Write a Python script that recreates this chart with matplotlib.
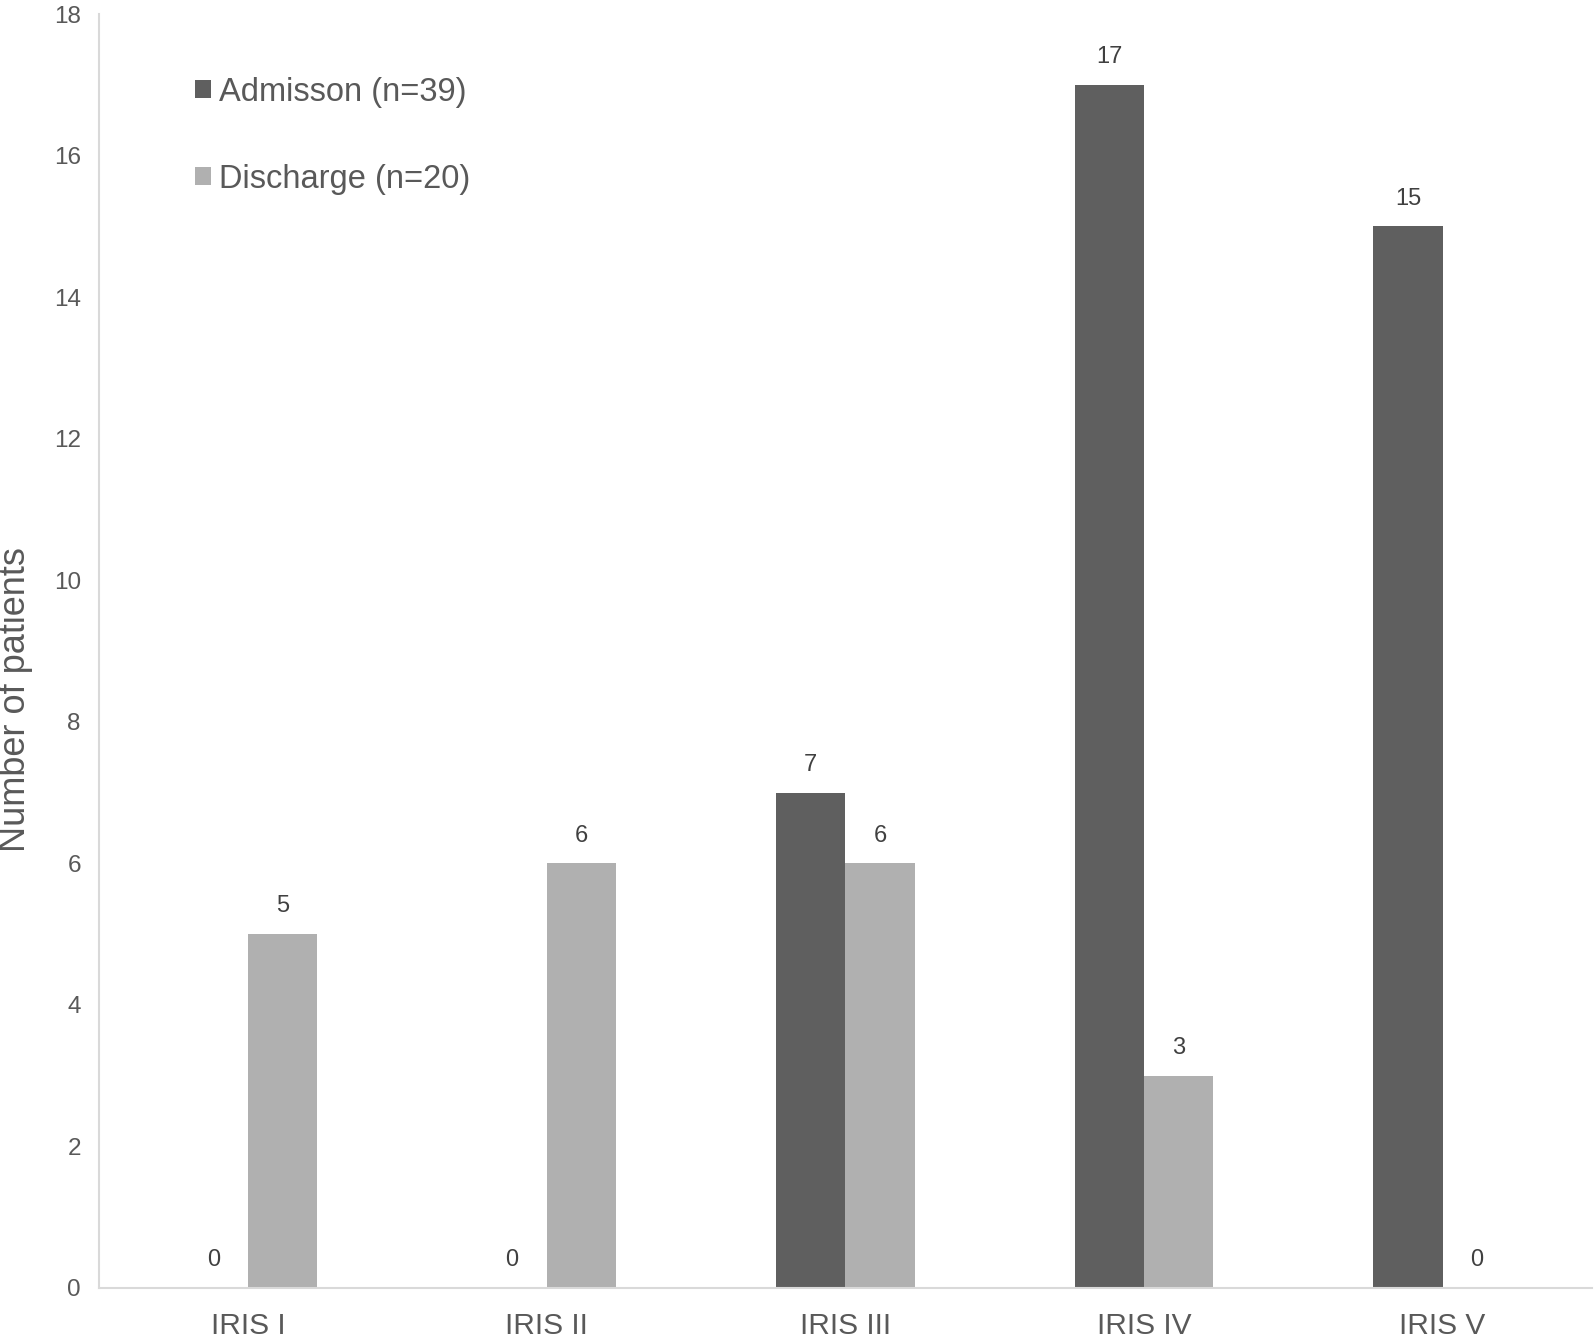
import numpy as np
import matplotlib
matplotlib.use("Agg")
import matplotlib.pyplot as plt

categories = ["IRIS I", "IRIS II", "IRIS III", "IRIS IV", "IRIS V"]
admission = [0, 0, 7, 17, 15]
discharge = [5, 6, 6, 3, 0]
yticks = list(range(0, 19, 2))

plt.rcParams['font.family'] = ['Liberation Sans', 'DejaVu Sans']
txt = "#595959"

fig = plt.figure(figsize=(15.95, 13.38), dpi=100)
ax = fig.add_axes([0.062, 0.0374, 0.936, 0.952])

x = np.arange(len(categories))
w = 0.232
b1 = ax.bar(x - w/2, admission, w, color="#5f5f5f", label="Admisson (n=39)")
b2 = ax.bar(x + w/2, discharge, w, color="#b0b0b0", label="Discharge (n=20)")

for bars in (b1, b2):
    ax.bar_label(bars, padding=12, fontsize=17, color="#404040")

ax.set_xlim(-0.5, len(categories) - 0.5)
ax.set_ylim(0, 18)
ax.set_yticks(yticks)
ax.set_xticks(x)
ax.set_xticklabels(categories)
ax.tick_params(axis="y", length=0, pad=13, labelsize=17.5, labelcolor=txt)
ax.tick_params(axis="x", length=0, pad=17, labelsize=21.5, labelcolor=txt)

for s in ("top", "right"):
    ax.spines[s].set_visible(False)
for s in ("left", "bottom"):
    ax.spines[s].set_color("#d9d9d9")
    ax.spines[s].set_linewidth(1.5)

ax.set_ylabel("Number of patients", fontsize=26, color=txt)
ax.yaxis.set_label_coords(-0.044, 0.462)

leg = ax.legend(loc="upper left", bbox_to_anchor=(0.045, 0.974), frameon=False,
                fontsize=23.5, labelspacing=1.72, handlelength=0.48,
                handleheight=0.48, handletextpad=0.25)
for t in leg.get_texts():
    t.set_color(txt)

fig.savefig("out.png", dpi=100)
